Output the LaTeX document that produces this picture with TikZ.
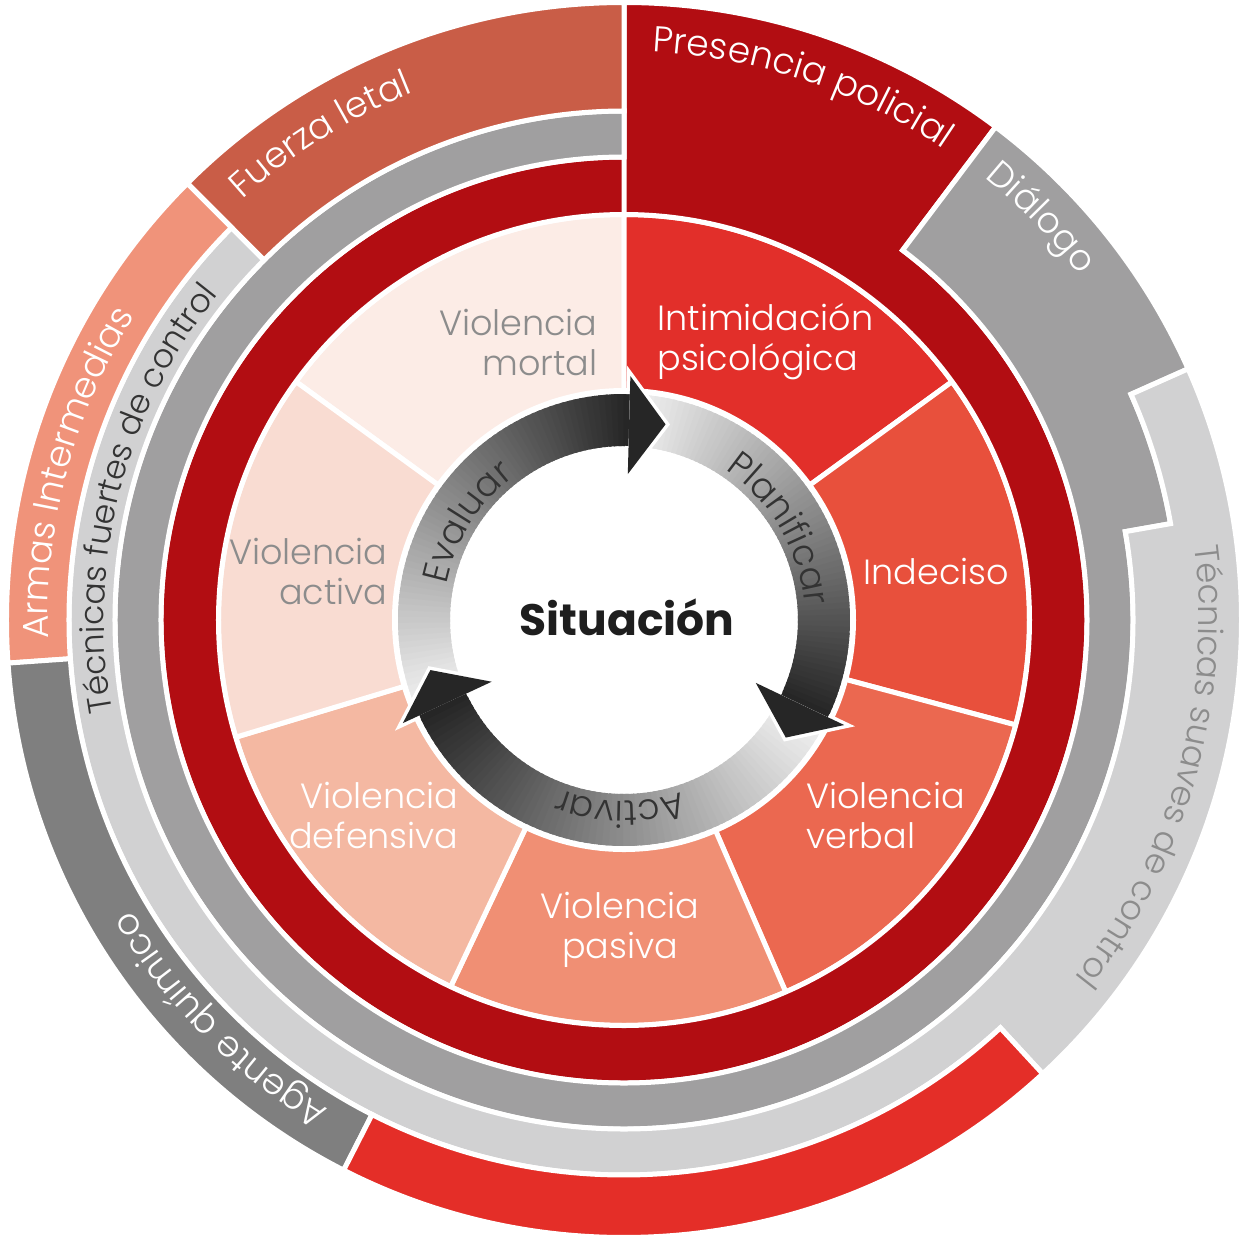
\documentclass[tikz,border=0pt]{standalone}
\usepackage{fontspec}
\setmainfont{Poppins}
\IfFontExistsTF{Poppins Light}{\newfontfamily\lightface{Poppins Light}}{\newfontfamily\lightface{Poppins}}
\usetikzlibrary{decorations.text}

% palette
\definecolor{ringred}{HTML}{B20D12}
\definecolor{letal}{HTML}{C95D47}
\definecolor{armas}{HTML}{F0937A}
\definecolor{midgray}{HTML}{A09FA0}
\definecolor{paleray}{HTML}{D1D1D2}
\definecolor{agente}{HTML}{7F7F7F}
\definecolor{brightred}{HTML}{E42E28}
\definecolor{secA}{HTML}{E22F2A}
\definecolor{secB}{HTML}{E8503C}
\definecolor{secC}{HTML}{EB6850}
\definecolor{secD}{HTML}{F08F74}
\definecolor{secE}{HTML}{F4B8A2}
\definecolor{secF}{HTML}{F9DCD2}
\definecolor{secG}{HTML}{FCECE6}
\definecolor{labelgray}{HTML}{8C8C8C}
\definecolor{arrowlight}{HTML}{F4F4F4}
\definecolor{arrowdark}{HTML}{262626}
\definecolor{ink}{HTML}{1E1E1E}
\definecolor{darkink}{HTML}{333333}

\newcommand\labelsize{\lightface\fontsize{17.5}{20}\selectfont}

% text set along a clockwise arc: [size] centre angle, radius, half span, colour, text
\newcommand\arctext[6][18]{%
  \path[decorate, decoration={text along path, text align=center,
        text color=#5, text={|\lightface\fontsize{#1}{#1}\selectfont|#6}}]
    (#2+#4:#3) arc[start angle=#2+#4, end angle=#2-#4, radius=#3];
}

% shaded band of the cycle ring, light at the start, dark at the end (clockwise)
\newcommand\cyclearc[2]{%
  \foreach \i in {0,...,71}{
    \pgfmathsetmacro\aa{#1-(#1-(#2))*\i/72}
    \pgfmathsetmacro\bb{#1-(#1-(#2))*min(\i+1.6,72)/72}
    \pgfmathsetmacro\pc{100*\i/71}
    \fill[arrowdark!\pc!arrowlight] (\aa:174) arc[start angle=\aa, end angle=\bb, radius=174]
      -- (\bb:226) arc[start angle=\bb, end angle=\aa, radius=226] -- cycle;
  }
}

% arrow head whose base lies on the given angle
\newcommand\cyclehead[1]{%
  \draw[white, line width=3.5pt, line join=miter]
    (#1:174) -- (#1:146) -- (#1-10.5:200) -- (#1:244) -- (#1:226);
  \fill[arrowdark] (#1:146) -- (#1-10.5:200) -- (#1:244) -- cycle;
}

\tikzset{
  seg/.style={fill=#1, draw=white, line width=2.5pt},
  sectorlabel/.style={font=\labelsize, inner sep=0pt},
}

\begin{document}
\begin{tikzpicture}[x=0.5pt, y=0.5pt]
\useasboundingbox (-624,-618) rectangle (617,620);
\fill[white] (-624,-618) rectangle (617,620);

% seven inner sectors
\foreach \a/\b/\c in {144/90/secG, 90/36/secA, 36/-15/secB, -15/-66.5/secC,
                      -66.5/-115.3/secD, -115.3/-163.2/secE, -163.2/-216/secF}{
  \path[seg=\c] (0,0) -- (\a:405.5) arc[start angle=\a, end angle=\b, radius=405.5] -- cycle;
}

% red ring joined with the "Presencia policial" block
\path[seg=ringred]
  (90:617.5) arc[start angle=90, end angle=53, radius=617.5]
  -- (53:463) arc[start angle=53, end angle=-270, radius=463]
  -- (90:405.5) arc[start angle=90, end angle=450, radius=405.5]
  -- cycle;

% grey ring joined with the "Diálogo" block
\path[seg=midgray]
  (53:617.5) arc[start angle=53, end angle=24, radius=617.5]
  -- (24:555) arc[start angle=24, end angle=10, radius=555]
  -- (10:509) arc[start angle=10, end angle=-270, radius=509]
  -- (-270:463) arc[start angle=-270, end angle=53, radius=463]
  -- cycle;

% pale ring joined with the "Técnicas suaves de control" block
\path[seg=paleray]
  (24:617.5) arc[start angle=24, end angle=-47.3, radius=617.5]
  -- (-47.3:555) arc[start angle=-47.3, end angle=-225, radius=555]
  -- (-225:509) arc[start angle=-225, end angle=10, radius=509]
  -- (10:555) arc[start angle=10, end angle=24, radius=555]
  -- cycle;

% outer blocks
\path[seg=letal] (90:617.5) arc[start angle=90, end angle=135, radius=617.5]
  -- (135:509) arc[start angle=135, end angle=90, radius=509] -- cycle;
\path[seg=armas] (135:617.5) arc[start angle=135, end angle=184, radius=617.5]
  -- (184:555) arc[start angle=184, end angle=135, radius=555] -- cycle;
\path[seg=agente] (184:617.5) arc[start angle=184, end angle=243, radius=617.5]
  -- (243:555) arc[start angle=243, end angle=184, radius=555] -- cycle;
\path[seg=brightred] (243:617.5) arc[start angle=243, end angle=312.7, radius=617.5]
  -- (312.7:555) arc[start angle=312.7, end angle=243, radius=555] -- cycle;

% cycle ring
\fill[white] (0,0) circle[radius=232];
\cyclearc{205}{88.5}
\cyclearc{88.5}{-25.5}
\cyclearc{-25.5}{-155}
\cyclehead{88.5}
\cyclehead{-25.5}
\cyclehead{205}

% labels of the outer bands
\arctext{71.5}{569}{40}{white}{Presencia policial}
\arctext{44}{571}{30}{white}{Diálogo}
\arctext[17]{-15.5}{575}{40}{labelgray}{Técnicas suaves de control}
\arctext{122}{568}{30}{white}{Fuerza letal}
\arctext{165}{576}{40}{white}{Armas Intermedias}
\arctext[16.5]{165.7}{520}{40}{darkink}{Técnicas fuertes de control}
\arctext{224.7}{572}{40}{white}{Agente químico}

% labels of the cycle ring
\arctext{148}{181}{60}{darkink}{Evaluar}
\arctext{30.3}{181}{60}{darkink}{Planificar}
\arctext{-91.2}{181}{60}{darkink}{Activar}

% sector labels
\node[sectorlabel, text=labelgray, anchor=east, align=right] (mortal) at (-26,278) {Violencia\\mortal};
\node[sectorlabel, text=white, anchor=west, align=left] (intim) at (33,278) {Intimidación\\psicológica};
\node[sectorlabel, text=white] (indec) at (312.5,49) {Indeciso};
\node[sectorlabel, text=white, anchor=west, align=left] (verbal) at (182,-195) {Violencia\\verbal};
\node[sectorlabel, text=white, align=center] (pasiva) at (-4,-310) {Violencia\\pasiva};
\node[sectorlabel, text=white, anchor=east, align=right] (defens) at (-165,-195) {Violencia\\defensiva};
\node[sectorlabel, text=labelgray, anchor=east, align=right] (activa) at (-236,49) {Violencia\\activa};

\node[font=\fontsize{22}{24}\selectfont\bfseries, text=ink, inner sep=0pt] (situ) at (3,3) {Situación};
\end{tikzpicture}
\end{document}
